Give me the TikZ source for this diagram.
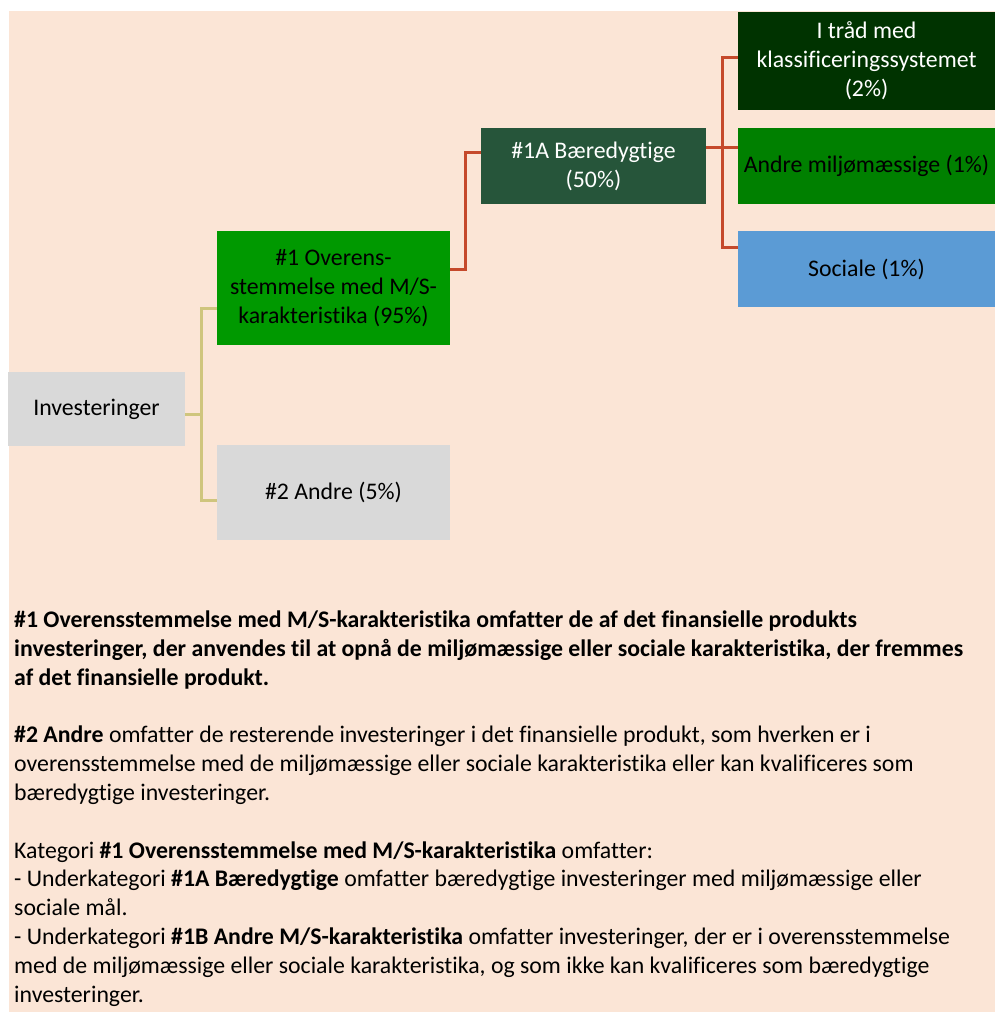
\documentclass[tikz,border=0pt]{standalone}
\usepackage{fontspec}
\setmainfont{Carlito}[Ligatures=NoCommon]
\definecolor{peach}{HTML}{FBE5D6}
\definecolor{boxgray}{HTML}{D9D9D9}
\definecolor{greenA}{HTML}{009900}
\definecolor{greenB}{HTML}{26553A}
\definecolor{greenC}{HTML}{003300}
\definecolor{greenD}{HTML}{008000}
\definecolor{blueS}{HTML}{5B9BD5}
\definecolor{tanline}{HTML}{CFC57D}
\definecolor{redline}{HTML}{C5492B}
\begin{document}
\begin{tikzpicture}[x=1pt,y=-1pt,
  boxnode/.style={rectangle,inner sep=0pt,align=center,
    font=\fontsize{23.8}{29}\selectfont},
  bodyline/.style={anchor=base west,inner sep=0pt,
    font=\fontsize{23.8}{29}\selectfont},
  tanconn/.style={draw=tanline,line width=3pt},
  redconn/.style={draw=redline,line width=3pt}]
\useasboundingbox (0,0) rectangle (995,1012);
\fill[white] (0,0) rectangle (995,1012);
\fill[peach] (9,11) rectangle (995,1012);

% boxes
\node[boxnode,fill=boxgray,minimum width=177pt,minimum height=74pt] (inv) at (96.5,409) {Investeringer};
\node[boxnode,fill=greenA,minimum width=233pt,minimum height=114pt] (o1) at (333.5,288) {\#1 Overens-\\stemmelse med M/S-\\karakteristika (95\%)};
\node[boxnode,fill=boxgray,minimum width=233pt,minimum height=95pt] (a2) at (333.5,492.5) {\#2 Andre (5\%)};
\node[boxnode,fill=greenB,text=white,minimum width=225pt,minimum height=76pt] (s1a) at (593.5,166) {\#1A Bæredygtige\\(50\%)};
\node[boxnode,fill=greenC,text=white,minimum width=257pt,minimum height=98pt] (tr) at (866.5,61) {I tråd med\\klassificeringssystemet\\(2\%)};
\node[boxnode,fill=greenD,minimum width=257pt,minimum height=76pt] (am) at (866.5,166) {Andre miljømæssige (1\%)};
\node[boxnode,fill=blueS,minimum width=257pt,minimum height=76pt] (so) at (866.5,269) {Sociale (1\%)};

% connectors
\coordinate (tj) at (201,414);
\draw[tanconn] ([yshift=-5pt]inv.east) -- (tj);
\draw[tanconn] ([yshift=-20pt]o1.west) -| (tj) |- ([yshift=-7.5pt]a2.west);
\draw[redconn] ([yshift=19pt]o1.east) -- ++(15,0) |- ([yshift=14pt]s1a.west);
\coordinate (rj) at (722,147);
\draw[redconn] ([yshift=19pt]s1a.east) -- ([yshift=19pt]am.west);
\draw[redconn] ([yshift=4pt]tr.west) -| (rj) |- ([yshift=22pt]so.west);

% body text
\node[bodyline] (l1) at (14,627.7) {\textbf{\#1 Overensstemmelse med M/S-karakteristika omfatter de af det finansielle produkts}};
\node[bodyline] (l2) at (14,656.5) {\textbf{investeringer, der anvendes til at opnå de miljømæssige eller sociale karakteristika, der fremmes}};
\node[bodyline] (l3) at (14,685.3) {\textbf{af det finansielle produkt.}};
\node[bodyline] (l4) at (14,742.9) {\textbf{\#2 Andre} omfatter de resterende investeringer i det finansielle produkt, som hverken er i};
\node[bodyline] (l5) at (14,771.7) {overensstemmelse med de miljømæssige eller sociale karakteristika eller kan kvalificeres som};
\node[bodyline] (l6) at (14,800.5) {bæredygtige investeringer.};
\node[bodyline] (l7) at (14,858.1) {Kategori \textbf{\#1 Overensstemmelse med M/S-karakteristika} omfatter:};
\node[bodyline] (l8) at (14,886.9) {- Underkategori \textbf{\#1A Bæredygtige} omfatter bæredygtige investeringer med miljømæssige eller};
\node[bodyline] (l9) at (14,915.7) {sociale mål.};
\node[bodyline] (l10) at (14,944.5) {- Underkategori \textbf{\#1B Andre M/S-karakteristika} omfatter investeringer, der er i overensstemmelse};
\node[bodyline] (l11) at (14,973.3) {med de miljømæssige eller sociale karakteristika, og som ikke kan kvalificeres som bæredygtige};
\node[bodyline] (l12) at (14,1002.1) {investeringer.};
\end{tikzpicture}
\end{document}
